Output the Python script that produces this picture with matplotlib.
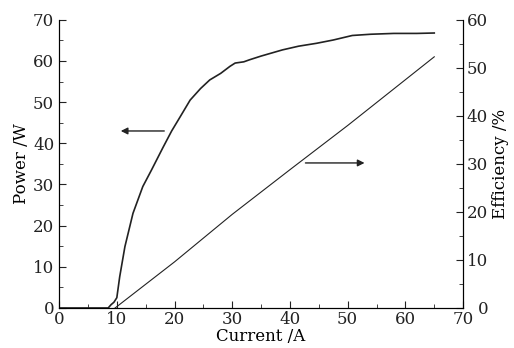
import matplotlib.pyplot as plt
from matplotlib.ticker import MultipleLocator

plt.rcParams['font.family'] = 'DejaVu Serif'

# power curve (left axis)
current_p = [0, 8.5, 9.0, 9.5, 10.0, 10.5, 11.4, 12.8, 14.5, 16.0, 18.0, 19.5,
             21.0, 22.7, 24.5, 26.1, 28.0, 29.6, 30.5, 32.0, 33.0, 35.0,
             38.7, 41.5, 44.6, 47.5, 50.8, 54.0, 58.0, 62.0, 65.0]
power = [0, 0, 0.8, 1.4, 2.5, 7.6, 14.9, 23.0, 29.5, 33.5, 39.0, 43.0,
         46.5, 50.5, 53.3, 55.4, 57.0, 58.7, 59.5, 59.8, 60.3, 61.2,
         62.7, 63.6, 64.3, 65.1, 66.2, 66.5, 66.7, 66.7, 66.8]

# efficiency line (right axis)
current_e = [9.7, 20.0, 30.0, 40.0, 50.0, 65.0]
efficiency = [0, 9.6, 19.5, 28.8, 38.0, 52.3]

fig = plt.figure(figsize=(5.14, 3.48), dpi=100)
ax = fig.add_axes([0.115, 0.115, 0.786, 0.828])
ax2 = ax.twinx()

ax.plot(current_p, power, color='#222222', lw=1.2)
ax2.plot(current_e, efficiency, color='#222222', lw=0.8)

ax.set_xlim(0, 70)
ax.set_ylim(0, 70)
ax2.set_ylim(0, 60)

for a in (ax, ax2):
    a.spines['top'].set_visible(False)
    a.tick_params(which='both', direction='in', labelsize=12, colors='#222222')
    a.tick_params(which='major', length=5)
    a.tick_params(which='minor', length=3)
    a.yaxis.set_major_locator(MultipleLocator(10))
    a.yaxis.set_minor_locator(MultipleLocator(5))
ax.xaxis.set_major_locator(MultipleLocator(10))
ax.xaxis.set_minor_locator(MultipleLocator(5))
ax.tick_params(axis='x', pad=2)

# right tick labels are right-aligned, so the lone "0" sits clear of "70"
ax2.tick_params(axis='y', pad=18)
for lbl in ax2.get_yticklabels():
    lbl.set_horizontalalignment('right')

ax.set_xlabel('Current /A', fontsize=12, labelpad=0)
ax.set_ylabel('Power /W', fontsize=12, labelpad=2)
ax2.set_ylabel('Efficiency /%', fontsize=12, labelpad=3)

ax.annotate('', xy=(10.2, 43), xytext=(18.7, 43),
            arrowprops=dict(arrowstyle='-|>', color='#222222', lw=1.0, mutation_scale=10))
ax2.annotate('', xy=(53.4, 30.2), xytext=(42.2, 30.2),
             arrowprops=dict(arrowstyle='-|>', color='#222222', lw=1.0, mutation_scale=10))

fig.savefig('out.png', dpi=100)
